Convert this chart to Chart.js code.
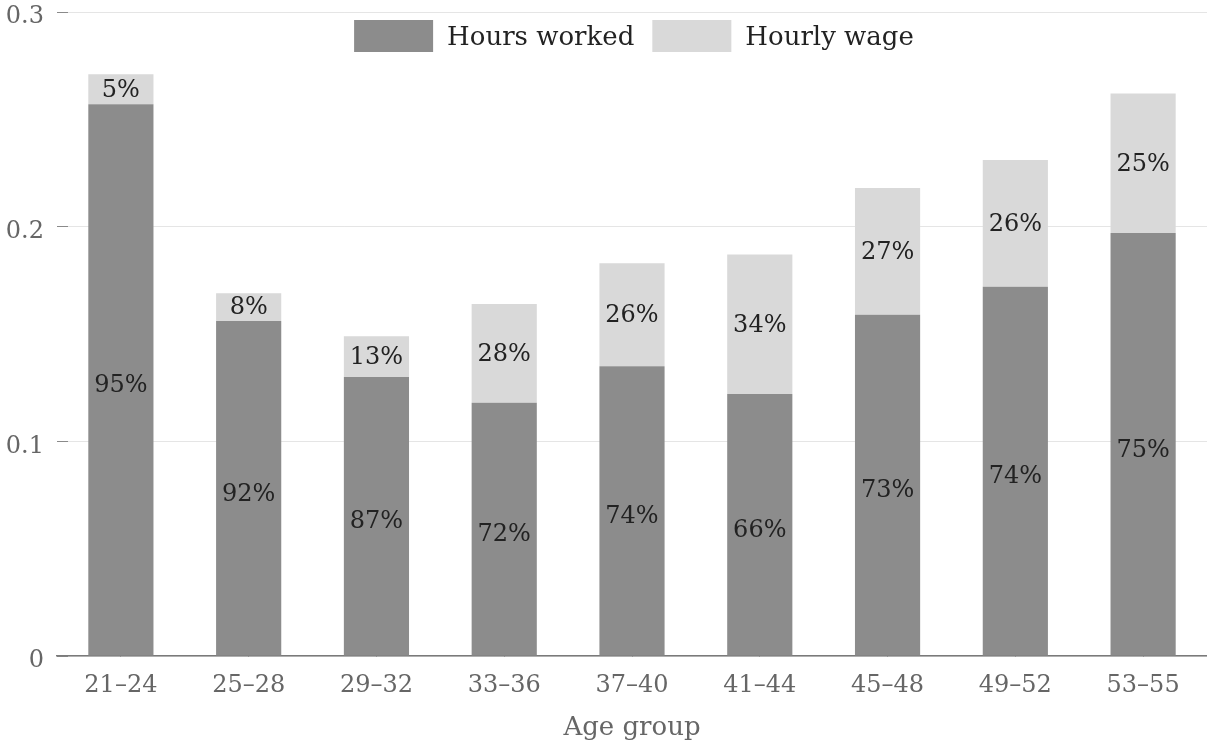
<!DOCTYPE html>
<html>
<head>
<meta charset="utf-8">
<script src="https://cdn.jsdelivr.net/npm/chart.js@4.4.1/dist/chart.umd.min.js"></script>
<style>
  html, body { margin: 0; padding: 0; background: #fff; }
  canvas { display: block; }
</style>
</head>
<body>
<canvas id="chart" width="1207" height="747"></canvas>
<script>
var ageGroups = ['21–24', '25–28', '29–32', '33–36', '37–40', '41–44', '45–48', '49–52', '53–55'];
var hoursWorked = [0.257, 0.156, 0.130, 0.118, 0.135, 0.122, 0.159, 0.172, 0.197];
var hourlyWage = [0.014, 0.013, 0.019, 0.046, 0.048, 0.065, 0.059, 0.059, 0.065];
var hoursShare = ['95%', '92%', '87%', '72%', '74%', '66%', '73%', '74%', '75%'];
var wageShare = ['5%', '8%', '13%', '28%', '26%', '34%', '27%', '26%', '25%'];
var yTicks = [0, 0.1, 0.2, 0.3];

var FONT = "'DejaVu Serif', serif";
var DARK = '#8c8c8c';
var LIGHT = '#d9d9d9';

// percentage text in the middle of each segment
var segmentLabels = {
    id: 'segmentLabels',
    afterDraw: function (chart) {
        var ctx = chart.ctx;
        var shares = [hoursShare, wageShare];
        var nudge = [6, 1]; // dark labels sit a bit lower in the original
        ctx.save();
        ctx.font = '24px ' + FONT;
        ctx.fillStyle = '#222';
        ctx.textAlign = 'center';
        ctx.textBaseline = 'middle';
        chart.data.datasets.forEach(function (ds, di) {
            var meta = chart.getDatasetMeta(di);
            meta.data.forEach(function (bar, i) {
                var yMid = (bar.y + bar.base) / 2;
                ctx.fillText(shares[di][i], bar.x, yMid + nudge[di]);
            });
        });
        ctx.restore();
    }
};

// legend sits inside the plot, just under the top gridline
var innerLegend = {
    id: 'innerLegend',
    afterDraw: function (chart) {
        var ctx = chart.ctx;
        var area = chart.chartArea;
        var boxW = 79, boxH = 32, gap = 14, itemGap = 18;
        ctx.save();
        ctx.font = '26px ' + FONT;
        var items = chart.data.datasets.map(function (ds) {
            return { text: ds.label, color: ds.backgroundColor, w: ctx.measureText(ds.label).width };
        });
        var total = 0;
        items.forEach(function (it, i) {
            total += boxW + gap + it.w + (i > 0 ? itemGap : 0);
        });
        var x = (area.left + area.right) / 2 - total / 2 + 2;
        var top = area.top + 8;
        items.forEach(function (it) {
            ctx.fillStyle = it.color;
            ctx.fillRect(x, top, boxW, boxH);
            ctx.fillStyle = '#222';
            ctx.textAlign = 'left';
            ctx.textBaseline = 'middle';
            ctx.fillText(it.text, x + boxW + gap, top + boxH / 2 + 2);
            x += boxW + gap + it.w + itemGap;
        });
        ctx.restore();
    }
};

var ctx = document.getElementById('chart').getContext('2d');
window.chart = new Chart(ctx, {
    type: 'bar',
    data: {
        labels: ageGroups,
        datasets: [{
            label: 'Hours worked',
            data: hoursWorked,
            backgroundColor: DARK,
            borderWidth: 0
        }, {
            label: 'Hourly wage',
            data: hourlyWage,
            backgroundColor: LIGHT,
            borderWidth: 0
        }]
    },
    plugins: [segmentLabels, innerLegend],
    options: {
        responsive: false,
        animation: false,
        devicePixelRatio: 1,
        layout: { padding: 0 },
        datasets: {
            bar: { categoryPercentage: 1, barPercentage: 0.51 }
        },
        plugins: {
            legend: { display: false },
            tooltip: { enabled: false }
        },
        scales: {
            x: {
                stacked: true,
                offset: true,
                border: { display: true, color: '#7a7a7a', width: 1.5 },
                grid: {
                    offset: false,
                    drawOnChartArea: false,
                    tickLength: -11,
                    tickColor: '#7a7a7a',
                    tickWidth: 1
                },
                ticks: {
                    color: '#666',
                    font: { family: FONT, size: 24 },
                    padding: 26,
                    maxRotation: 0
                },
                title: {
                    display: true,
                    text: 'Age group',
                    color: '#666',
                    font: { family: FONT, size: 26 },
                    padding: { top: 4, bottom: 3 }
                },
                afterFit: function (scale) { scale.height = 91; }
            },
            y: {
                stacked: true,
                min: 0,
                max: 0.3,
                z: 1,
                border: { display: false },
                grid: {
                    color: 'rgba(0,0,0,0.1)',
                    lineWidth: 1,
                    tickLength: -11,
                    tickColor: '#8a8a8a',
                    tickWidth: 1
                },
                afterBuildTicks: function (scale) {
                    scale.ticks = yTicks.map(function (v) { return { value: v }; });
                },
                ticks: {
                    color: '#666',
                    font: { family: FONT, size: 24 },
                    padding: 24,
                    labelOffset: 5,
                    callback: function (v) { return v === 0 ? '0' : v.toFixed(1); }
                },
                afterFit: function (scale) {
                    scale.width = 57;
                    scale.paddingTop = 12;
                    scale.paddingBottom = 0;
                }
            }
        }
    }
});
</script>
</body>
</html>
